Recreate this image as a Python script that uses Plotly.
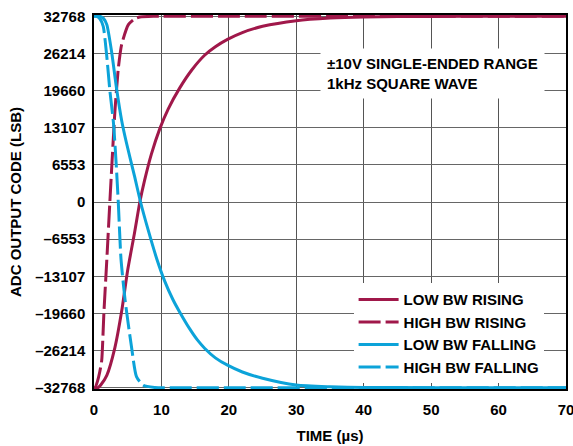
import plotly.graph_objects as go

# ---- data ----
t_low_rise = [0, 0.6, 1.0, 1.9, 3.1, 4.1, 5.0, 6.0, 6.8, 7.5, 8.5, 9.75, 11.0, 12.7, 14.5, 16.4, 18.0, 19.8, 22, 25, 30, 35, 40, 50, 60, 70]
v_low_rise = [-32768, -32768, -32300, -30600, -25700, -19300, -12000, -5500, 0, 3800, 8400, 12900, 16400, 20100, 23300, 25900, 27400, 28700, 29900, 31000, 32000, 32450, 32650, 32750, 32768, 32768]

t_high_rise = [0, 0.15, 0.5, 0.85, 1.14, 1.47, 1.9, 2.35, 2.85, 3.1, 3.6, 4.1, 5.1, 6.0, 6.8, 9, 20, 40, 70]
v_high_rise = [-32768, -32768, -31700, -30000, -28000, -19500, -10200, 0, 10900, 16000, 23500, 27800, 31300, 32300, 32650, 32768, 32768, 32768, 32768]

t_low_fall = [0, 0.9, 1.4, 1.9, 2.6, 3.35, 4.1, 4.8, 6.0, 6.9, 8.0, 9.3, 10.5, 11.7, 12.7, 14.2, 15.3, 16.4, 18.0, 19.8, 22, 25, 30, 35, 40, 50, 60, 70]
v_low_fall = [32768, 32768, 32400, 31300, 26600, 20000, 14400, 10500, 4600, 0, -4800, -10000, -14000, -17200, -19400, -22400, -24300, -25800, -27500, -28800, -30000, -31100, -32300, -32600, -32720, -32768, -32768, -32768]

t_high_fall = [0, 0.4, 0.9, 1.37, 1.87, 2.36, 2.9, 3.3, 3.6, 4.0, 4.6, 5.6, 6.3, 7.3, 9, 12, 20, 40, 70]
v_high_fall = [32768, 32768, 32300, 31000, 26000, 19600, 13800, 6500, 0, -10000, -17200, -25900, -30800, -32350, -32720, -32768, -32768, -32768, -32768]

y_ticks = [-32768, -26214, -19660, -13107, -6553, 0, 6553, 13107, 19660, 26214, 32768]
y_tick_text = [("\u2013" + str(-v)) if v < 0 else str(v) for v in y_ticks]
x_ticks = [0, 10, 20, 30, 40, 50, 60, 70]

series_names = ["LOW BW RISING", "HIGH BW RISING", "LOW BW FALLING", "HIGH BW FALLING"]

CRIMSON = "#A0184A"
BLUE = "#0CA3D9"
FONT = "Liberation Sans, Arial, Helvetica, sans-serif"

fig = go.Figure()
specs = [
    (t_low_rise, v_low_rise, CRIMSON, "solid"),
    (t_high_rise, v_high_rise, CRIMSON, "22px,5px"),
    (t_low_fall, v_low_fall, BLUE, "solid"),
    (t_high_fall, v_high_fall, BLUE, "22px,5px"),
]
for name, (tx, vy, col, dash) in zip(series_names, specs):
    fig.add_trace(go.Scatter(
        x=tx, y=vy, mode="lines", name=name,
        line=dict(color=col, width=3, dash=dash, shape="spline", smoothing=0.6),
    ))

fig.update_layout(
    width=573, height=446,
    margin=dict(l=94, r=7, t=15, b=57, autoexpand=False),
    paper_bgcolor="white", plot_bgcolor="white",
    font=dict(family=FONT, size=15, color="black", weight="bold"),
    showlegend=True,
    legend=dict(
        x=0.55, y=0.283, xanchor="left", yanchor="top",
        bgcolor="white", borderwidth=0,
        font=dict(family=FONT, size=15, color="black", weight="bold"),
        tracegroupgap=0, itemwidth=40,
    ),
    annotations=[dict(
        x=0.718, y=0.8436, xref="paper", yref="paper",
        xanchor="center", yanchor="middle",
        text="\u00b110V SINGLE-ENDED RANGE<br>1kHz SQUARE WAVE",
        showarrow=False, align="left",
        bgcolor="white", borderpad=6,
        font=dict(family=FONT, size=15, color="black", weight="bold"),
    )],
)

fig.update_xaxes(
    range=[0, 70], tickvals=x_ticks, automargin=False, ticklabeloverflow="allow",
    showgrid=True, gridcolor="#555555", gridwidth=1,
    showline=True, linecolor="black", linewidth=1.5, mirror=True,
    ticks="outside", ticklen=6, tickcolor="rgba(0,0,0,0)",
    zeroline=False,
    title=dict(text="TIME (\u00b5s)", standoff=14,
               font=dict(family=FONT, size=15, weight="bold")),
)
fig.update_yaxes(
    range=[-33000, 33000], tickvals=y_ticks, ticktext=y_tick_text, automargin=False,
    showgrid=True, gridcolor="#666666", gridwidth=1,
    showline=True, linecolor="black", linewidth=1.5, mirror=True,
    ticks="outside", ticklen=4, tickcolor="rgba(0,0,0,0)",
    zeroline=False,
    title=dict(text="ADC OUTPUT CODE (LSB)", standoff=10,
               font=dict(family=FONT, size=15, weight="bold")),
)

fig.write_html(
    "out.html",
    config={"displayModeBar": False},
    post_script="document.body.style.margin='0';document.body.style.overflow='hidden';",
)
